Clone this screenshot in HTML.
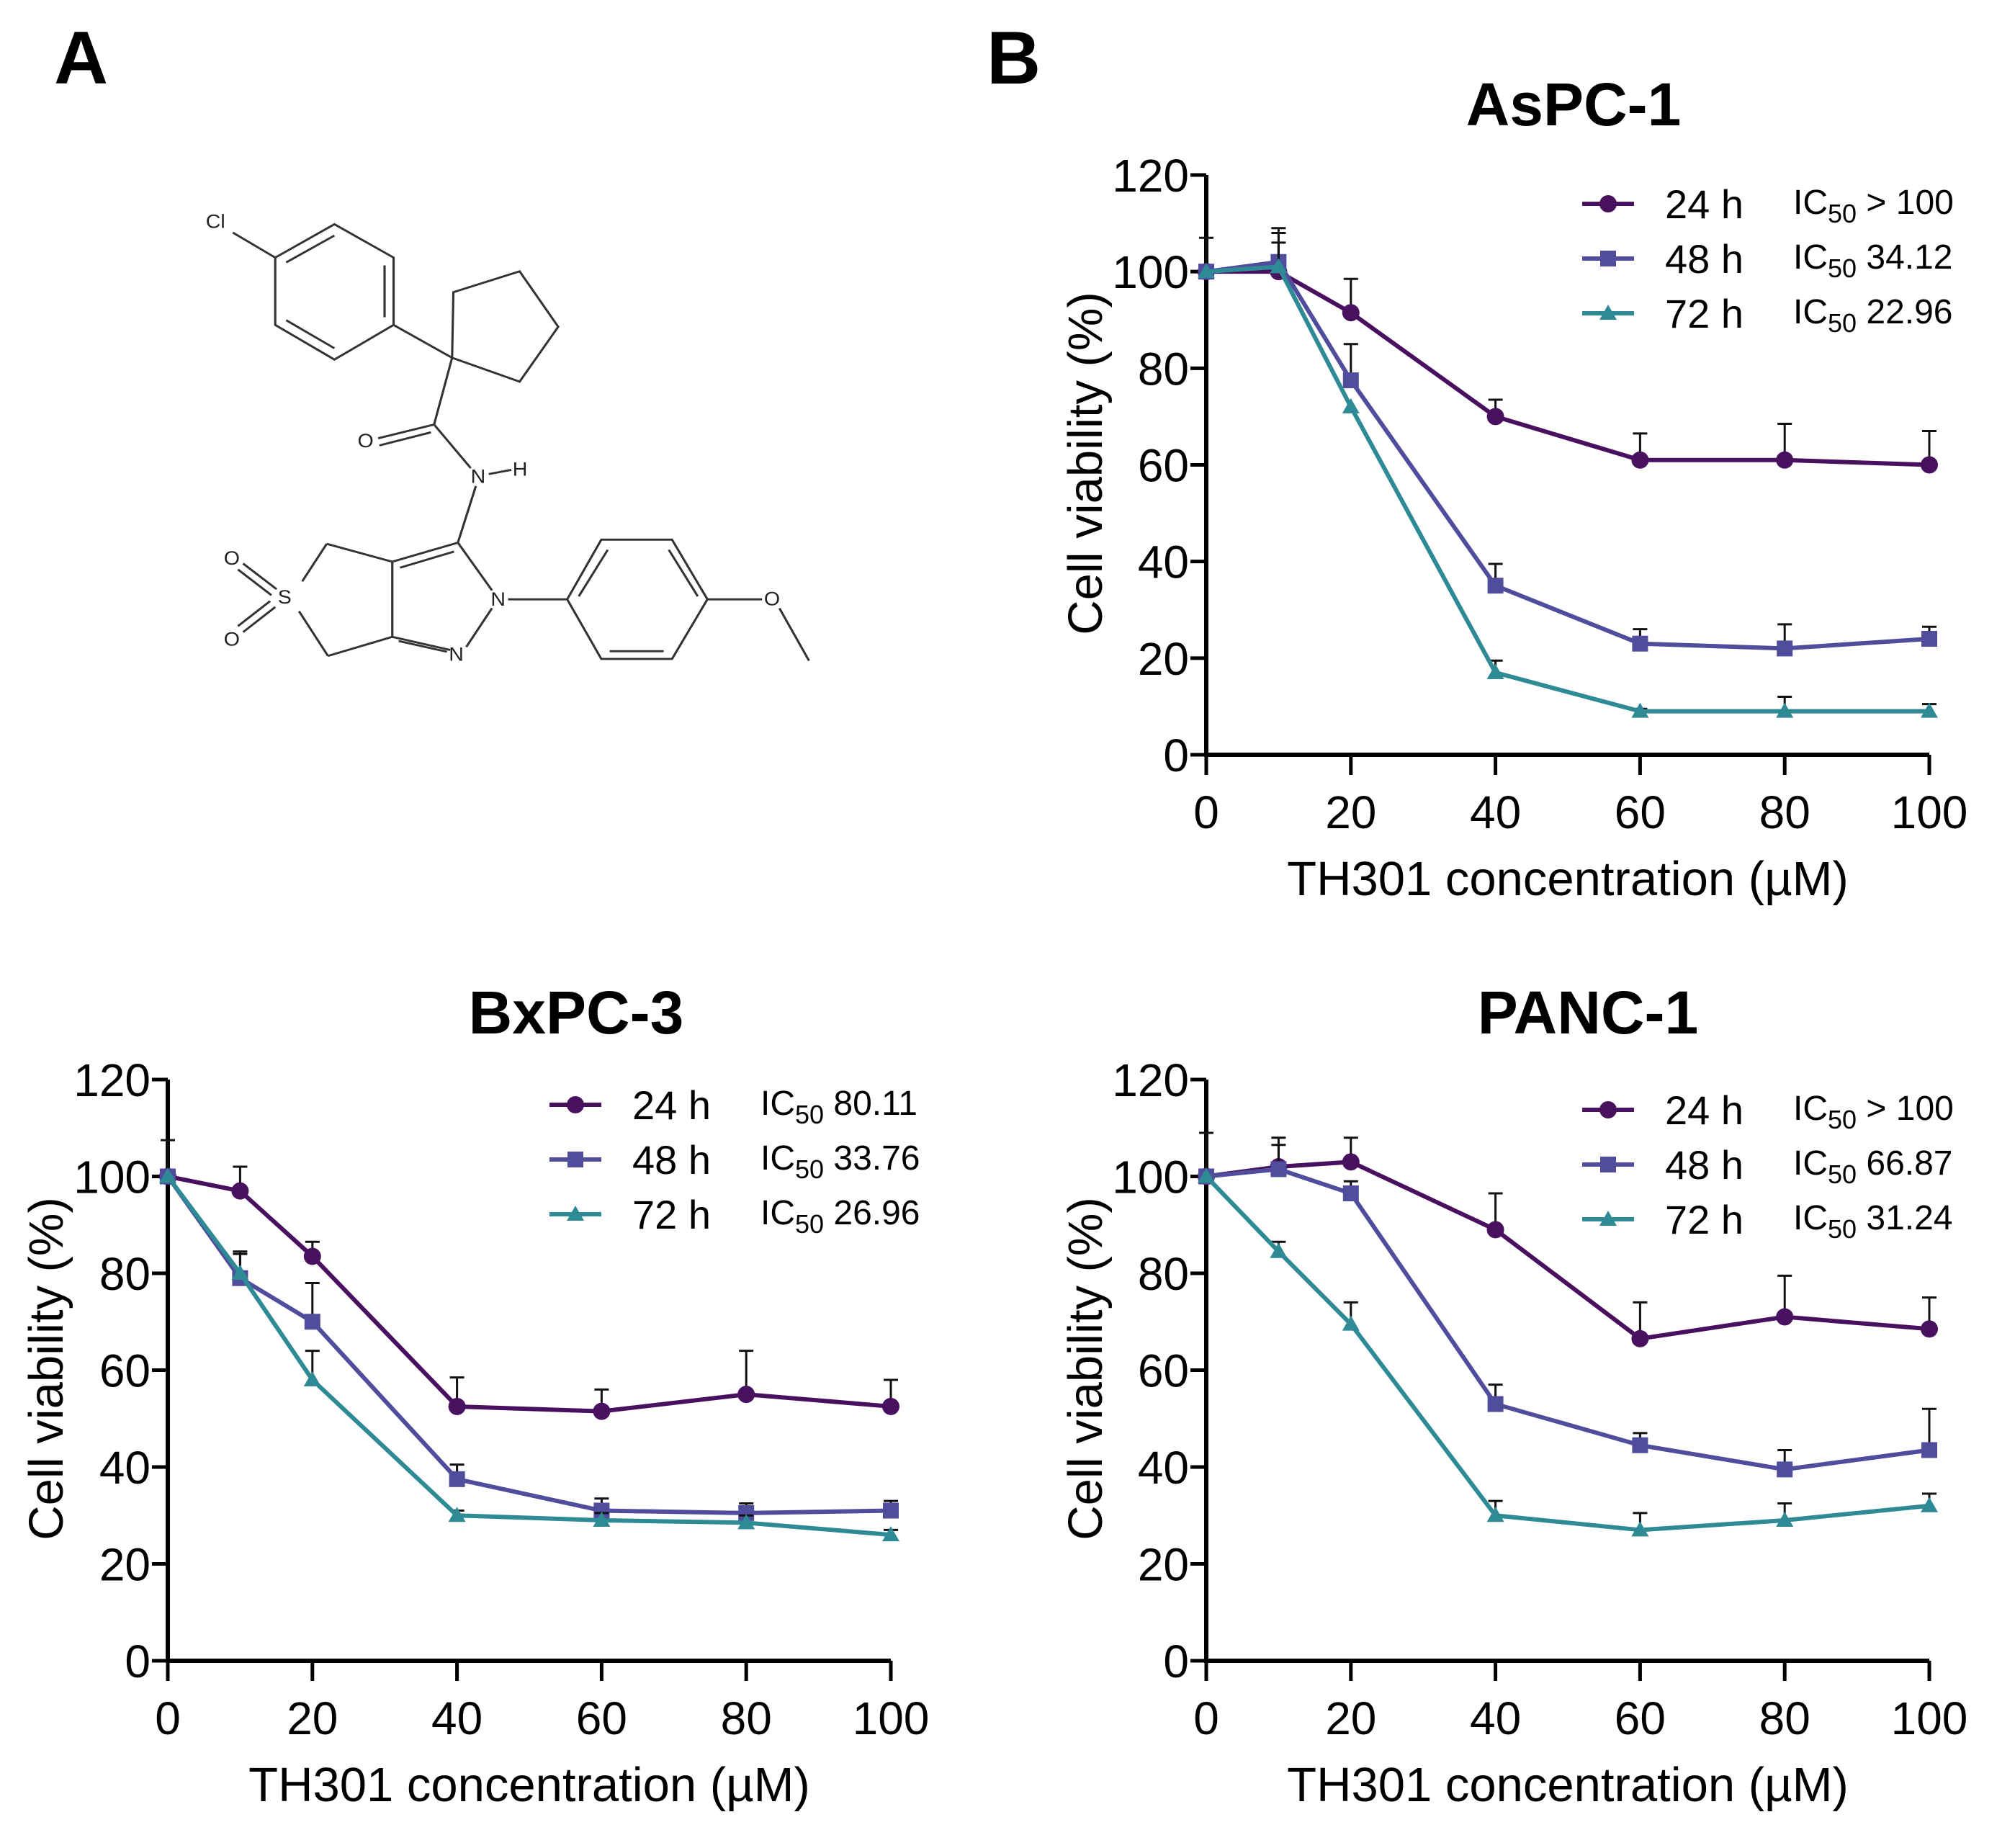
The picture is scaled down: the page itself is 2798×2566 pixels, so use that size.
<!DOCTYPE html>
<html><head><meta charset="utf-8"><style>
html,body{margin:0;padding:0;background:#fff;}
svg{display:block;}
text{font-family:"Liberation Sans",Arial,sans-serif;}
</style></head><body>
<svg id="fig" width="2798" height="2566" viewBox="0 0 2798 2566" xmlns="http://www.w3.org/2000/svg">
<text x="75" y="116" font-size="104" font-weight="bold">A</text>
<text x="1370" y="116" font-size="104" font-weight="bold">B</text>
<g transform="scale(0.893,0.828)" stroke="#333" stroke-width="3.5" fill="none">
<polyline points="428,432 520,376 612,432 612,545 520,603 428,545 428,432"/>
<line x1="445" y1="440" x2="520" y2="395"/><line x1="598" y1="445" x2="598" y2="532"/><line x1="445" y1="537" x2="520" y2="584"/>
<line x1="362" y1="390" x2="428" y2="432"/>
<line x1="612" y1="545" x2="703" y2="600"/>
<polyline points="703,600 705,490 808,455 868,548 808,640 703,600"/>
<line x1="703" y1="600" x2="675" y2="712"/>
<line x1="675" y1="712" x2="588" y2="735"/><line x1="670" y1="725" x2="590" y2="747"/>
<line x1="675" y1="712" x2="732" y2="785"/>
<line x1="760" y1="795" x2="795" y2="788"/>
<line x1="740" y1="815" x2="712" y2="910"/>
<polyline points="712,910 610,942 610,1068 700,1090"/>
<line x1="706" y1="925" x2="622" y2="952"/><line x1="620" y1="1075" x2="695" y2="1093"/>
<line x1="712" y1="910" x2="765" y2="990"/><line x1="765" y1="1020" x2="725" y2="1085"/>
<line x1="610" y1="942" x2="508" y2="912"/><line x1="508" y1="912" x2="470" y2="975"/>
<line x1="610" y1="1068" x2="510" y2="1100"/><line x1="510" y1="1100" x2="465" y2="1025"/>
<line x1="378" y1="945" x2="430" y2="988"/><line x1="370" y1="955" x2="422" y2="998"/>
<line x1="378" y1="1060" x2="428" y2="1018"/><line x1="370" y1="1050" x2="420" y2="1008"/>
<line x1="790" y1="1005" x2="882" y2="1005"/>
<polyline points="882,1005 935,905 1045,905 1100,1005 1045,1105 935,1105 882,1005"/>
<line x1="945" y1="922" x2="900" y2="1000"/><line x1="1040" y1="922" x2="1085" y2="1000"/><line x1="948" y1="1092" x2="1032" y2="1092"/>
<line x1="1100" y1="1005" x2="1185" y2="1005"/><line x1="1212" y1="1020" x2="1258" y2="1108"/>
</g>
<g transform="scale(0.893,0.828)" font-size="32" fill="#222">
<text x="320" y="382">Cl</text><text x="556" y="750">O</text><text x="732" y="810">N</text><text x="797" y="798">H</text>
<text x="348" y="947">O</text><text x="348" y="1083">O</text><text x="432" y="1012">S</text>
<text x="763" y="1016">N</text><text x="698" y="1108">N</text><text x="1188" y="1015">O</text>
</g>
</svg>
<script>
const xValues = [0, 10, 20, 40, 60, 80, 100];
const xTicks = [0, 20, 40, 60, 80, 100];
const yTicks = [0, 20, 40, 60, 80, 100, 120];
const seriesNames = ["24 h", "48 h", "72 h"];
const aspc24 = [100, 100, 91.5, 70, 61, 61, 60];
const aspc24Err = [7, 9, 7, 3.5, 5.5, 7.5, 7];
const aspc48 = [100, 102, 77.5, 35, 23, 22, 24];
const aspc48Err = [0, 6, 7.5, 4.5, 3, 5, 2.5];
const aspc72 = [100, 101, 72, 17, 9, 9, 9];
const aspc72Err = [0, 5, 0, 2.5, 0.5, 3, 1.5];
const aspcIC = ["> 100", "34.12", "22.96"];
const bx24 = [100, 97, 83.5, 52.5, 51.5, 55, 52.5];
const bx24Err = [7.5, 5, 3, 6, 4.5, 9, 5.5];
const bx48 = [100, 79, 70, 37.5, 31, 30.5, 31];
const bx48Err = [0, 5.5, 8, 3, 2.5, 2, 2];
const bx72 = [100, 80, 58, 30, 29, 28.5, 26];
const bx72Err = [0, 4, 6, 1, 1.5, 1.5, 1];
const bxIC = ["80.11", "33.76", "26.96"];
const pa24 = [100, 102, 103, 89, 66.5, 71, 68.5];
const pa24Err = [9, 6, 5, 7.5, 7.5, 8.5, 6.5];
const pa48 = [100, 101.5, 96.5, 53, 44.5, 39.5, 43.5];
const pa48Err = [0, 5, 2.5, 4, 2.5, 4, 8.5];
const pa72 = [100, 84.5, 69.5, 30, 27, 29, 32];
const pa72Err = [0, 2, 4.5, 3, 3.5, 3.5, 2.5];
const paIC = ["> 100", "66.87", "31.24"];

const colors = ["#4a1060", "#4f4d9c", "#2e8a95"];
const NS = "http://www.w3.org/2000/svg";
const svg = document.getElementById("fig");
function mk(tag, attrs, parent) {
  const e = document.createElementNS(NS, tag);
  for (const k in attrs) e.setAttribute(k, attrs[k]);
  (parent || svg).appendChild(e);
  return e;
}
function marker(g, kind, cx, cy, col) {
  let m;
  if (kind === 0) m = mk("circle", {cx: cx, cy: cy, r: 12, fill: col}, g);
  else if (kind === 1) m = mk("rect", {x: cx - 11, y: cy - 11, width: 22, height: 22, fill: col}, g);
  else m = mk("polygon", {points: `${cx},${cy - 12} ${cx + 12},${cy + 9} ${cx - 12},${cy + 9}`, fill: col}, g);
  return m;
}
function panel(p) {
  const g = mk("g", {});
  
  
  const sx = v => p.x0 + (p.x1 - p.x0) * v / 100;
  const sy = v => p.y0 - (p.y0 - p.y120) * v / 120;
  const t = mk("text", {x: p.tx, y: p.ty, "font-size": 84, "font-weight": "bold", "text-anchor": "middle"}, g);
  t.textContent = p.title;
  
  
  const ax = mk("path", {d: `M${p.x0},${p.y120} V${p.y0} H${p.x1}`, stroke: "#000", "stroke-width": 6, fill: "none"}, g);
  
  
  yTicks.forEach(v => {
    mk("line", {x1: p.x0 - 22, x2: p.x0, y1: sy(v), y2: sy(v), stroke: "#000", "stroke-width": 5}, g);
    const l = mk("text", {x: p.x0 - 24, y: sy(v) + 23, "font-size": 64, "text-anchor": "end"}, g);
    l.textContent = v;
    
    
  });
  xTicks.forEach(v => {
    mk("line", {x1: sx(v), x2: sx(v), y1: p.y0, y2: p.y0 + 28, stroke: "#000", "stroke-width": 5}, g);
    const l = mk("text", {x: sx(v), y: p.y0 + 102, "font-size": 64, "text-anchor": "middle"}, g);
    l.textContent = v;
    
    
  });
  const xt = mk("text", {x: (p.x0 + p.x1) / 2, y: p.y0 + 195, "font-size": 67, "text-anchor": "middle"}, g);
  xt.textContent = "TH301 concentration (µM)";
  
  
  const yc = (p.y0 + p.y120) / 2 - 2;
  const yt = mk("text", {x: p.yx, y: yc, "font-size": 67, "text-anchor": "middle", transform: `rotate(-90 ${p.yx} ${yc})`, dy: 23}, g);
  yt.textContent = "Cell viability (%)";
  
  
  p.series.forEach((s, i) => {
    const sg = mk("g", {}, g);
    
    
    s.vals.forEach((v, j) => {
      const e = s.err[j];
      if (e > 0) {
        const x = sx(xValues[j]);
        mk("line", {x1: x, x2: x, y1: sy(v), y2: sy(v + e), stroke: "#111", "stroke-width": 3}, sg);
        mk("line", {x1: x - 10, x2: x + 10, y1: sy(v + e), y2: sy(v + e), stroke: "#111", "stroke-width": 3}, sg);
      }
    });
    const pts = s.vals.map((v, j) => sx(xValues[j]) + "," + sy(v)).join(" ");
    const pl = mk("polyline", {points: pts, fill: "none", stroke: colors[i], "stroke-width": 6}, sg);
    
    
    s.vals.forEach((v, j) => {
      const m = marker(sg, i, sx(xValues[j]), sy(v), colors[i]);
      
      
    });
    const ry = p.ly + i * 76;
    const lg = mk("g", {}, g);
    
    
    mk("line", {x1: p.lx, x2: p.lx + 72, y1: ry, y2: ry, stroke: colors[i], "stroke-width": 6}, lg);
    marker(lg, i, p.lx + 36, ry, colors[i]);
    const lt = mk("text", {x: p.lx + 115, y: ry + 20, "font-size": 56}, lg);
    lt.textContent = seriesNames[i];
    const ic = mk("text", {x: p.lx + 293, y: ry + 14, "font-size": 48}, lg);
    ic.innerHTML = 'IC<tspan font-size="36" dy="12">50</tspan><tspan dy="-12"> ' + p.ic[i].replace('>', '&gt;') + '</tspan>';
  });
}
panel({name: "chart-aspc1", title: "AsPC-1", tx: 2185, ty: 174, x0: 1675, x1: 2679, y0: 1048, y120: 243, yx: 1507, lx: 2197, ly: 283, ic: aspcIC,
  series: [{vals: aspc24, err: aspc24Err}, {vals: aspc48, err: aspc48Err}, {vals: aspc72, err: aspc72Err}]});
panel({name: "chart-bxpc3", title: "BxPC-3", tx: 800, ty: 1435, x0: 233, x1: 1237, y0: 2306, y120: 1499, yx: 64, lx: 763, ly: 1534, ic: bxIC,
  series: [{vals: bx24, err: bx24Err}, {vals: bx48, err: bx48Err}, {vals: bx72, err: bx72Err}]});
panel({name: "chart-panc1", title: "PANC-1", tx: 2205, ty: 1435, x0: 1675, x1: 2679, y0: 2306, y120: 1499, yx: 1507, lx: 2197, ly: 1541, ic: paIC,
  series: [{vals: pa24, err: pa24Err}, {vals: pa48, err: pa48Err}, {vals: pa72, err: pa72Err}]});
</script>
</body></html>
